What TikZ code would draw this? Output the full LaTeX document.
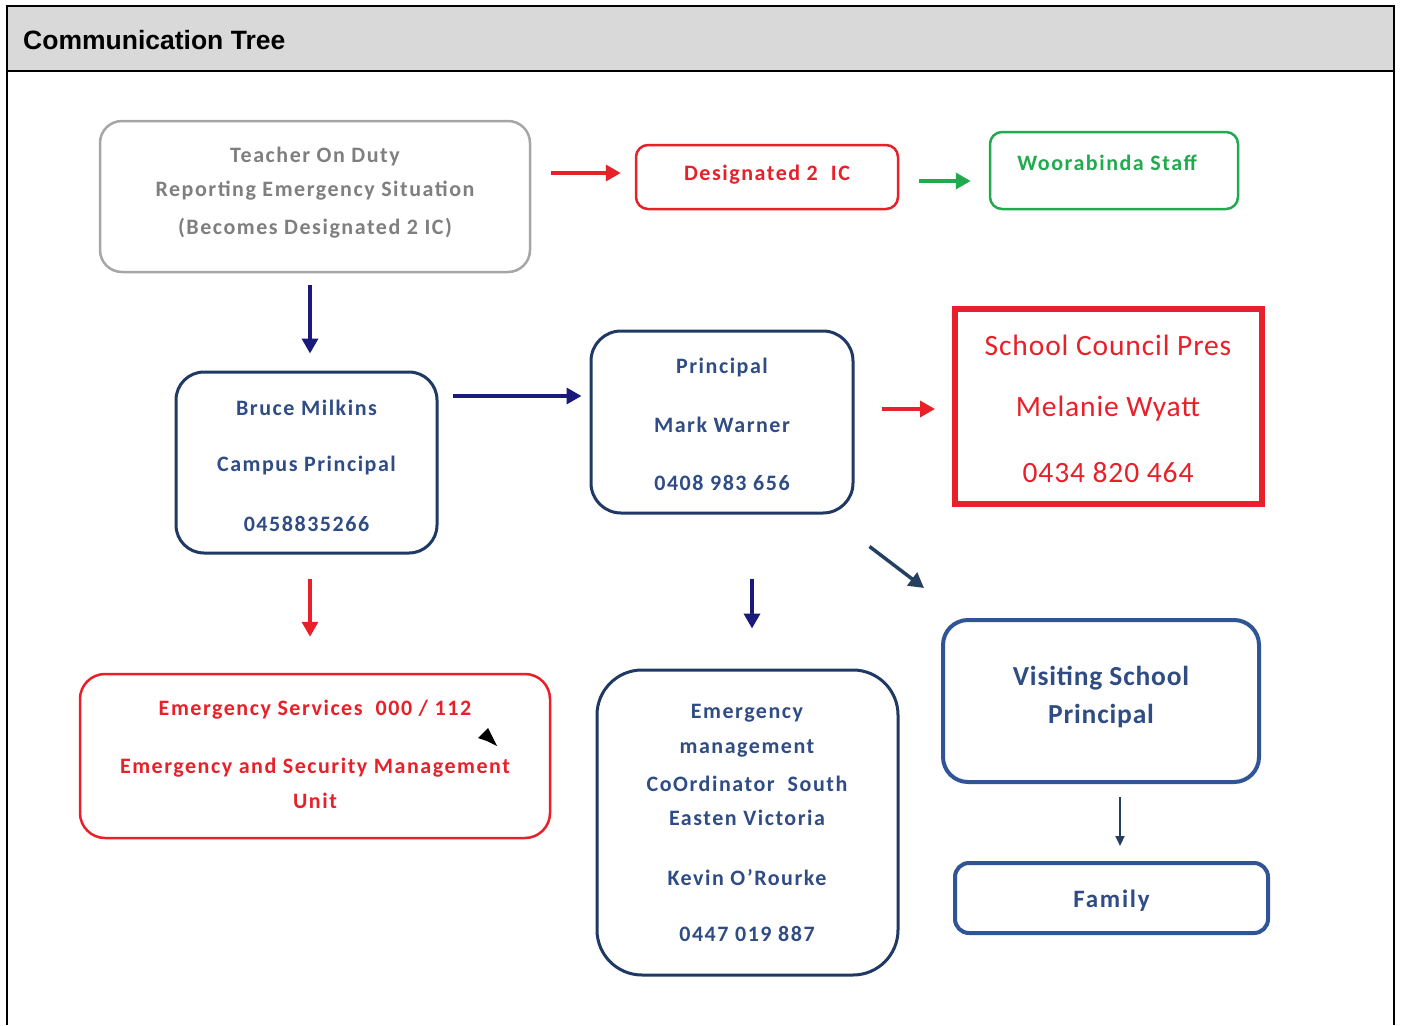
\documentclass[tikz,border=0pt]{standalone}
\usepackage{fontspec}
\setmainfont{Carlito}
\newfontfamily\hdrfont{Liberation Sans}
\newfontfamily\boxfont[LetterSpace=7]{Carlito}
\newfontfamily\bigfont[LetterSpace=3]{Carlito}
\usetikzlibrary{arrows.meta}
\definecolor{hdrgray}{HTML}{D9D9D9}
\definecolor{boxgray}{HTML}{A6A6A6}
\definecolor{txtgray}{HTML}{7F7F7F}
\definecolor{myred}{HTML}{E8202A}
\definecolor{mygreen}{HTML}{22AA4E}
\definecolor{navybox}{HTML}{1F3864}
\definecolor{navytxt}{HTML}{2F4C85}
\definecolor{arrnavy}{HTML}{1A1A7A}
\definecolor{bluebox}{HTML}{2F5597}
\definecolor{diagcol}{HTML}{243F60}
\begin{document}
\begin{tikzpicture}[x=1pt,y=-1pt,
  box/.style={draw, inner sep=0pt, fill=white},
  txt/.style={inner sep=0pt, anchor=center, font=\boxfont\fontsize{22}{26}\selectfont\bfseries},
  arr/.style={line width=3.5pt, -{Triangle[length=15pt,width=16pt]}},
]
\useasboundingbox (0,0) rectangle (1402,1025);
% frame
\fill[hdrgray] (7,6) rectangle (1394,71);
\draw[line width=2pt] (7,1025) -- (7,6) -- (1394,6) -- (1394,1025);
\draw[line width=2pt] (7,71) -- (1394,71);
\node[anchor=west, inner sep=0pt, font=\hdrfont\fontsize{26.5}{30}\selectfont\bfseries] (hdr) at (23,40) {Communication Tree};

% boxes
\node[box, draw=boxgray, line width=2.5pt, rounded corners=22pt, minimum width=430pt, minimum height=151pt] (teacher) at (315,196.5) {};
\node[box, draw=myred, line width=2.5pt, rounded corners=12pt, minimum width=262pt, minimum height=64pt] (d2ic) at (767,177) {};
\node[box, draw=mygreen, line width=2.5pt, rounded corners=12pt, minimum width=248pt, minimum height=77pt] (woor) at (1114,170.5) {};
\node[box, draw=navybox, line width=3pt, rounded corners=28pt, minimum width=261pt, minimum height=181pt] (bruce) at (306.5,462.5) {};
\node[box, draw=navybox, line width=3pt, rounded corners=30pt, minimum width=262pt, minimum height=182pt] (princ) at (722,422) {};
\node[box, draw=myred, line width=6pt, minimum width=307pt, minimum height=195pt] (scp) at (1108.5,406.5) {};
\node[box, draw=myred, line width=2.5pt, rounded corners=25pt, minimum width=470pt, minimum height=164pt] (ems) at (315,756) {};
\node[box, draw=navybox, line width=3pt, rounded corners=45pt, minimum width=301pt, minimum height=305pt] (emc) at (747.5,822.5) {};
\node[box, draw=bluebox, line width=4pt, rounded corners=25pt, minimum width=316pt, minimum height=162pt] (vsp) at (1101,701) {};
\node[box, draw=bluebox, line width=4pt, rounded corners=14pt, minimum width=313pt, minimum height=70pt] (fam) at (1111.5,898) {};

% texts
\node[txt, text=txtgray] (t1) at (315,157) {Teacher On Duty};
\node[txt, text=txtgray] (t2) at (315,191) {Reporting Emergency Situation};
\node[txt, text=txtgray] (t3) at (315,228) {(Becomes Designated 2 IC)};
\node[txt, text=myred] (d1) at (767,175) {Designated 2\ \ IC};
\node[txt, text=mygreen] (w1) at (1107,163) {Woorabinda Staff};
\node[txt, text=navytxt] (b1) at (306.5,408) {Bruce Milkins};
\node[txt, text=navytxt] (b2) at (306.5,466) {Campus Principal};
\node[txt, text=navytxt] (b3) at (306.5,524) {0458835266};
\node[txt, text=navytxt] (p1) at (722,368) {Principal};
\node[txt, text=navytxt] (p2) at (722,425) {Mark Warner};
\node[txt, text=navytxt] (p3) at (722,483) {0408 983 656};
\node[txt, text=myred, font=\bigfont\fontsize{29.5}{34}\selectfont] (s1) at (1108,345) {School Council Pres};
\node[txt, text=myred, font=\bigfont\fontsize{29.5}{34}\selectfont] (s2) at (1108,409) {Melanie Wyatt};
\node[txt, text=myred, font=\bigfont\fontsize{29.5}{34}\selectfont] (s3) at (1108,473) {0434 820 464};
\node[txt, text=myred] (e1) at (315,710) {Emergency Services\ \ 000 / 112};
\node[txt, text=myred] (e2) at (315,768) {Emergency and Security Management};
\node[txt, text=myred] (e3) at (315,801) {Unit};
\node[txt, text=navytxt] (c1) at (747,713) {Emergency};
\node[txt, text=navytxt] (c2) at (747,748) {management};
\node[txt, text=navytxt] (c3) at (747,784) {CoOrdinator\ \ South};
\node[txt, text=navytxt] (c4) at (747,818) {Easten Victoria};
\node[txt, text=navytxt] (c5) at (747,878) {Kevin O’Rourke};
\node[txt, text=navytxt] (c6) at (747,934) {0447 019 887};
\node[txt, text=navytxt, font=\bigfont\fontsize{27.5}{32}\selectfont\bfseries] (v1) at (1101,678) {Visiting School};
\node[txt, text=navytxt, font=\bigfont\fontsize{27.5}{32}\selectfont\bfseries] (v2) at (1101,716) {Principal};
\node[txt, text=navytxt, font=\boxfont\fontsize{25}{30}\selectfont\bfseries] (f1) at (1111.5,901) {Family};

% connectors
\draw[arr, myred] ([xshift=20pt,yshift=4pt]teacher.east |- d2ic.west) -- ([xshift=-14pt,yshift=4pt]d2ic.west);
\draw[arr, mygreen] ([xshift=20pt,yshift=-4pt]d2ic.east) -- ([xshift=-18pt,yshift=-4pt]d2ic.east -| woor.west);
\draw[arr, arrnavy] ([xshift=-5pt,yshift=-12pt]teacher.south) -- ([xshift=3.5pt,yshift=17pt]bruce.north);
\draw[arr, arrnavy] ([xshift=14pt,yshift=66.5pt]bruce.east) -- ([xshift=-8pt,yshift=26pt]princ.west);
\draw[arr, myred] ([xshift=27pt,yshift=13pt]princ.east) -- ([xshift=-17pt,yshift=-2.5pt]scp.west);
\draw[arr, diagcol] ([xshift=15pt,yshift=-32pt]princ.south east) -- ([xshift=-17pt,yshift=30pt]vsp.north west);
\draw[arr, arrnavy] ([xshift=30pt,yshift=-64pt]princ.south) -- ([xshift=4.5pt,yshift=40pt]emc.north);
\draw[arr, myred] ([xshift=3.5pt,yshift=-24pt]bruce.south) -- ([xshift=-5pt,yshift=36pt]ems.north);
\draw[line width=2pt, diagcol, -{Triangle[length=10pt,width=9pt]}] ([xshift=19pt,yshift=-13pt]vsp.south) -- ([xshift=8.5pt,yshift=15pt]fam.north);
% stray arrowhead (tip only)
\coordinate (sa) at (478,738);
\coordinate (sb) at (488,728);
\coordinate (sc) at (497,746);
\coordinate (sd) at (487,741);
\fill[black] (sa) -- (sb) -- (sc) -- (sd) -- cycle;
\end{tikzpicture}
\end{document}
